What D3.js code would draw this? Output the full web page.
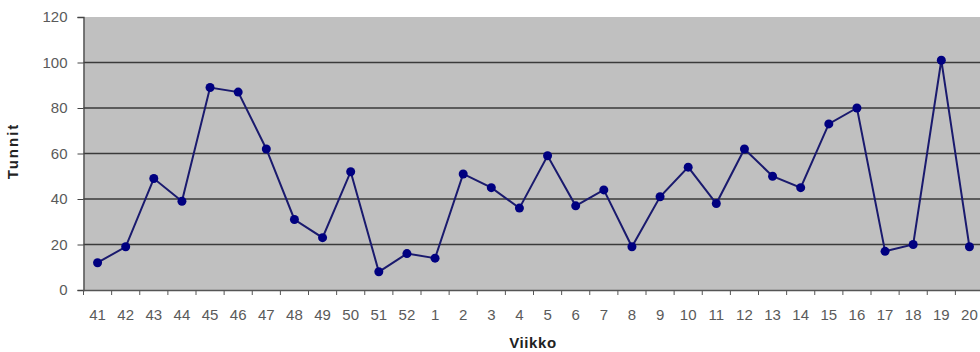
<!DOCTYPE html>
<html><head><meta charset="utf-8">
<script src="https://cdn.jsdelivr.net/npm/d3@7"></script>
<style>body{margin:0;background:#fff;overflow:hidden}svg{display:block}</style>
</head><body>
<script>
const weeks = ["41","42","43","44","45","46","47","48","49","50","51","52","1","2","3","4","5","6","7","8","9","10","11","12","13","14","15","16","17","18","19","20"];
const hours = [12,19,49,39,89,87,62,31,23,52,8,16,14,51,45,36,59,37,44,19,41,54,38,62,50,45,73,80,17,20,101,19];
const yTicks = [0,20,40,60,80,100,120];

const W = 980, H = 352;
const m = {left:83.5, top:17, right:-3.5, bottom:62};
const FONT = "Arial, 'Liberation Sans', sans-serif";
const svg = d3.select("body").append("svg").attr("width",W).attr("height",H);

const x = d3.scaleBand().domain(weeks).range([m.left, W - m.right]);
const y = d3.scaleLinear().domain([0,120]).range([290, m.top]);

svg.append("rect").attr("x",m.left).attr("y",y(120)).attr("width",W-m.left-m.right).attr("height",y(0)-y(120)).attr("fill","#c0c0c0");

// gridlines
svg.append("g").selectAll("line").data(yTicks.filter(d=>d>0&&d<120)).join("line")
  .attr("x1",m.left).attr("x2",W).attr("y1",d=>y(d)).attr("y2",d=>y(d))
  .attr("stroke","#3a3a3a").attr("stroke-width",1.4);

// y axis
const ya = svg.append("g").attr("transform",`translate(${m.left},0)`)
  .call(d3.axisLeft(y).tickValues(yTicks).tickSize(6).tickPadding(10));
ya.select(".domain").attr("stroke","#444").attr("stroke-width",1.3);
ya.selectAll(".tick line").attr("stroke","#444");
ya.selectAll("text").attr("fill","#5a5a5a").style("font-family",FONT).style("font-size","15px");

// x axis
const xa = svg.append("g").attr("transform",`translate(0,290)`)
  .call(d3.axisBottom(x).tickSizeInner(0).tickSizeOuter(0).tickPadding(19));
xa.select(".domain").attr("stroke","#555").attr("stroke-width",1.5);
xa.selectAll("text").attr("fill","#5a5a5a").style("font-family",FONT).style("font-size","15px");
// category boundary ticks
svg.append("g").selectAll("line").data(weeks).join("line")
  .attr("x1",d=>x(d)).attr("x2",d=>x(d)).attr("y1",290).attr("y2",295)
  .attr("stroke","#555").attr("stroke-width",1);

// line
const cx = (d,i)=>x(weeks[i]) + x.bandwidth()/2;
svg.append("path").datum(hours)
  .attr("d", d3.line().x((d,i)=>cx(d,i)).y(d=>y(d)))
  .attr("fill","none").attr("stroke","#1a1a6e").attr("stroke-width",2);
svg.append("g").selectAll("circle").data(hours).join("circle")
  .attr("cx",(d,i)=>cx(d,i)).attr("cy",d=>y(d)).attr("r",4.5).attr("fill","#000080");

// titles
svg.append("text").attr("x",533).attr("y",348).attr("text-anchor","middle")
  .style("font-family",FONT).style("font-size","15px").style("font-weight","bold").style("letter-spacing","0.6px").attr("fill","#222").text("Viikko");
svg.append("text").attr("transform","translate(18,151) rotate(-90)").attr("text-anchor","middle")
  .style("font-family",FONT).style("font-size","15px").style("font-weight","bold").style("letter-spacing","2px").attr("fill","#222").text("Tunnit");
</script>
</body></html>
